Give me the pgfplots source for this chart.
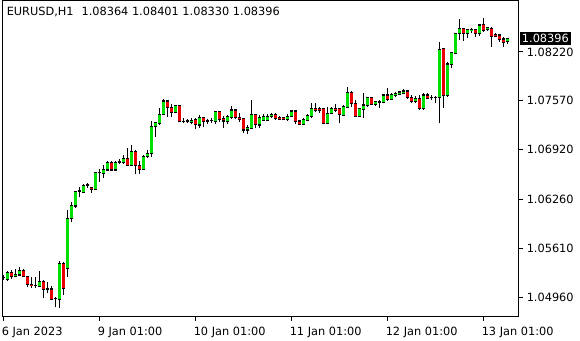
\documentclass[border=0pt]{standalone}
\usepackage{fontspec}
\setmainfont{DejaVu Sans}
\usepackage{pgfplots}
\usepackage{pgfplotstable}
\pgfplotsset{compat=1.18}
\definecolor{bullc}{HTML}{00E000}
\colorlet{bearc}{red!92!black}
\pgfplotstableread{
i O H L C
0 1.05222 1.05253 1.05186 1.05226
1 1.05196 1.05310 1.05177 1.05289
2 1.05289 1.05319 1.05200 1.05230
3 1.05230 1.05329 1.05226 1.05262
4 1.05253 1.05355 1.05240 1.05319
5 1.05319 1.05333 1.05222 1.05230
6 1.05236 1.05240 1.05097 1.05129
7 1.05129 1.05230 1.05084 1.05110
8 1.05113 1.05222 1.05076 1.05116
9 1.05106 1.05306 1.05097 1.05169
10 1.05169 1.05186 1.04951 1.05057
11 1.05062 1.05156 1.05009 1.05067
12 1.05067 1.05106 1.04920 1.04930
13 1.04940 1.04964 1.04823 1.04943
14 1.04930 1.05439 1.04810 1.05409
15 1.05409 1.05430 1.04987 1.05071
16 1.05342 1.06118 1.05230 1.06007
17 1.06007 1.06228 1.05958 1.06184
18 1.06171 1.06374 1.06144 1.06364
19 1.06364 1.06428 1.06287 1.06377
20 1.06357 1.06464 1.06357 1.06450
21 1.06450 1.06481 1.06406 1.06453
22 1.06420 1.06425 1.06348 1.06393
23 1.06393 1.06630 1.06386 1.06619
24 1.06619 1.06663 1.06494 1.06622
25 1.06606 1.06712 1.06540 1.06663
26 1.06650 1.06770 1.06643 1.06756
27 1.06756 1.06770 1.06643 1.06650
28 1.06650 1.06770 1.06643 1.06756
29 1.06756 1.06796 1.06730 1.06760
30 1.06747 1.06846 1.06730 1.06806
31 1.06806 1.06939 1.06703 1.06707
32 1.06707 1.06983 1.06703 1.06890
33 1.06890 1.06916 1.06593 1.06707
34 1.06716 1.06770 1.06597 1.06663
35 1.06663 1.06850 1.06650 1.06827
36 1.06827 1.06916 1.06806 1.06872
37 1.06872 1.07306 1.06827 1.07235
38 1.07235 1.07293 1.07093 1.07280
39 1.07271 1.07471 1.07249 1.07389
40 1.07389 1.07591 1.07386 1.07568
41 1.07568 1.07581 1.07357 1.07479
42 1.07479 1.07524 1.07357 1.07418
43 1.07418 1.07515 1.07402 1.07506
44 1.07506 1.07515 1.07289 1.07293
45 1.07293 1.07336 1.07271 1.07289
46 1.07302 1.07327 1.07275 1.07289
47 1.07285 1.07340 1.07262 1.07313
48 1.07323 1.07344 1.07191 1.07258
49 1.07249 1.07380 1.07213 1.07353
50 1.07353 1.07357 1.07226 1.07293
51 1.07302 1.07327 1.07262 1.07313
52 1.07307 1.07340 1.07275 1.07309
53 1.07293 1.07435 1.07258 1.07426
54 1.07426 1.07435 1.07289 1.07323
55 1.07336 1.07371 1.07213 1.07302
56 1.07293 1.07380 1.07262 1.07366
57 1.07344 1.07502 1.07331 1.07448
58 1.07448 1.07462 1.07327 1.07344
59 1.07349 1.07402 1.07293 1.07323
60 1.07336 1.07344 1.07138 1.07182
61 1.07182 1.07249 1.07125 1.07213
62 1.07205 1.07581 1.07196 1.07389
63 1.07389 1.07393 1.07205 1.07258
64 1.07249 1.07380 1.07213 1.07344
65 1.07313 1.07393 1.07302 1.07357
66 1.07313 1.07389 1.07302 1.07366
67 1.07357 1.07410 1.07344 1.07389
68 1.07389 1.07402 1.07309 1.07336
69 1.07349 1.07362 1.07313 1.07323
70 1.07347 1.07360 1.07313 1.07327
71 1.07323 1.07389 1.07302 1.07366
72 1.07357 1.07448 1.07349 1.07435
73 1.07435 1.07448 1.07258 1.07293
74 1.07302 1.07313 1.07249 1.07258
75 1.07258 1.07340 1.07249 1.07327
76 1.07313 1.07389 1.07302 1.07380
77 1.07357 1.07537 1.07344 1.07462
78 1.07471 1.07537 1.07426 1.07439
79 1.07462 1.07492 1.07402 1.07439
80 1.07462 1.07479 1.07258 1.07271
81 1.07271 1.07492 1.07258 1.07402
82 1.07402 1.07492 1.07389 1.07471
83 1.07471 1.07524 1.07426 1.07448
84 1.07471 1.07475 1.07271 1.07389
85 1.07380 1.07515 1.07366 1.07492
86 1.07484 1.07750 1.07475 1.07679
87 1.07679 1.07701 1.07492 1.07537
88 1.07537 1.07581 1.07357 1.07366
89 1.07366 1.07479 1.07357 1.07462
90 1.07458 1.07671 1.07336 1.07515
91 1.07506 1.07620 1.07492 1.07617
92 1.07617 1.07620 1.07515 1.07519
93 1.07519 1.07572 1.07506 1.07564
94 1.07551 1.07581 1.07479 1.07555
95 1.07551 1.07657 1.07537 1.07648
96 1.07648 1.07737 1.07572 1.07591
97 1.07591 1.07671 1.07581 1.07657
98 1.07648 1.07692 1.07617 1.07671
99 1.07661 1.07701 1.07644 1.07688
100 1.07671 1.07724 1.07661 1.07701
101 1.07701 1.07705 1.07599 1.07617
102 1.07617 1.07648 1.07545 1.07559
103 1.07559 1.07635 1.07545 1.07604
104 1.07604 1.07648 1.07448 1.07462
105 1.07462 1.07671 1.07448 1.07648
106 1.07648 1.07671 1.07591 1.07604
107 1.07613 1.07648 1.07581 1.07617
108 1.07617 1.07635 1.07537 1.07620
109 1.07617 1.08357 1.07271 1.08256
110 1.08269 1.08275 1.07479 1.07635
111 1.07635 1.08091 1.07625 1.08060
112 1.08056 1.08224 1.08003 1.08211
113 1.08203 1.08477 1.08189 1.08469
114 1.08460 1.08655 1.08380 1.08535
115 1.08535 1.08540 1.08370 1.08460
116 1.08469 1.08522 1.08402 1.08513
117 1.08504 1.08535 1.08469 1.08522
118 1.08522 1.08526 1.08424 1.08460
119 1.08469 1.08593 1.08433 1.08579
120 1.08589 1.08669 1.08490 1.08504
121 1.08513 1.08557 1.08504 1.08543
122 1.08535 1.08549 1.08291 1.08424
123 1.08456 1.08469 1.08416 1.08433
124 1.08446 1.08456 1.08357 1.08380
125 1.08393 1.08416 1.08291 1.08349
126 1.08364 1.08401 1.08330 1.08396
}\ohlc
\begin{document}
\begin{tikzpicture}[font=\fontsize{8.5}{10}\selectfont]
\begin{axis}[name=main, scale only axis, width=387pt, height=237pt,
  xmin=-0.25, xmax=128.75, ymin=1.04701, ymax=1.08905,
  axis line style={black, line width=0.75pt},
  tick style={black, line width=0.75pt},
  tick align=outside, major tick length=3pt,
  xtick pos=bottom, ytick pos=right, yticklabel pos=right,
  xtick={0,24,48,72,96,120},
  xticklabels={6 Jan 2023,9 Jan 01:00,10 Jan 01:00,11 Jan 01:00,12 Jan 01:00,13 Jan 01:00},
  ytick={1.0496,1.0561,1.0626,1.0692,1.0757,1.0822},
  yticklabels={1.04960,1.05610,1.06260,1.06920,1.07570,1.08220},
  xticklabel style={anchor=north west, inner sep=0pt, xshift=-1.5pt, yshift=-4.5pt},
  yticklabel style={anchor=west, inner sep=0pt, xshift=3pt},
  ]
% wicks
\addplot[black, mark=none, draw opacity=0,
  error bars/.cd, y dir=plus, y explicit, error mark=none,
  error bar style={draw opacity=1, draw=black, line width=0.75pt, line cap=butt}]
  table[x=i, y=L, y error expr=\thisrow{H}-\thisrow{L}] {\ohlc};
% body outlines
\addplot[black, mark=none, draw opacity=0,
  error bars/.cd, y dir=plus, y explicit, error mark=none,
  error bar style={draw opacity=1, draw=black, line width=2.7pt, line cap=butt}]
  table[x=i, y expr={min(\thisrow{O},\thisrow{C})-0.00007},
        y error expr={abs(\thisrow{C}-\thisrow{O})+0.00014}] {\ohlc};
% bull fills
\addplot[bullc, mark=none, draw opacity=0,
  error bars/.cd, y dir=plus, y explicit, error mark=none,
  error bar style={draw opacity=1, draw=bullc, line width=1.6pt, line cap=butt}]
  table[x=i, y expr={min(\thisrow{O},\thisrow{C})+0.00007},
        y error expr={\thisrow{C}-\thisrow{O}>0.00014 ? \thisrow{C}-\thisrow{O}-0.00014 : 0}] {\ohlc};
% bear fills
\addplot[bearc, mark=none, draw opacity=0,
  error bars/.cd, y dir=plus, y explicit, error mark=none,
  error bar style={draw opacity=1, draw=bearc, line width=1.6pt, line cap=butt}]
  table[x=i, y expr={min(\thisrow{O},\thisrow{C})+0.00007},
        y error expr={\thisrow{O}-\thisrow{C}>0.00014 ? \thisrow{O}-\thisrow{C}-0.00014 : 0}] {\ohlc};
\coordinate (pb) at (axis cs:128.75,1.08396);
\end{axis}
\node[anchor=north west, inner sep=0pt] at ([xshift=3pt, yshift=-5pt]main.north west)
  {EURUSD,H1\hspace{0.7em}1.08364 1.08401 1.08330 1.08396};
\node[anchor=west, fill=black, text=white, inner xsep=1.6pt, inner ysep=0pt, minimum height=9.5pt]
  at ([xshift=0.8pt]pb) {1.08396};
\path (main.south west) ++(-1.875pt,-17.625pt) rectangle ++(435pt,255pt);
\end{tikzpicture}
\end{document}
